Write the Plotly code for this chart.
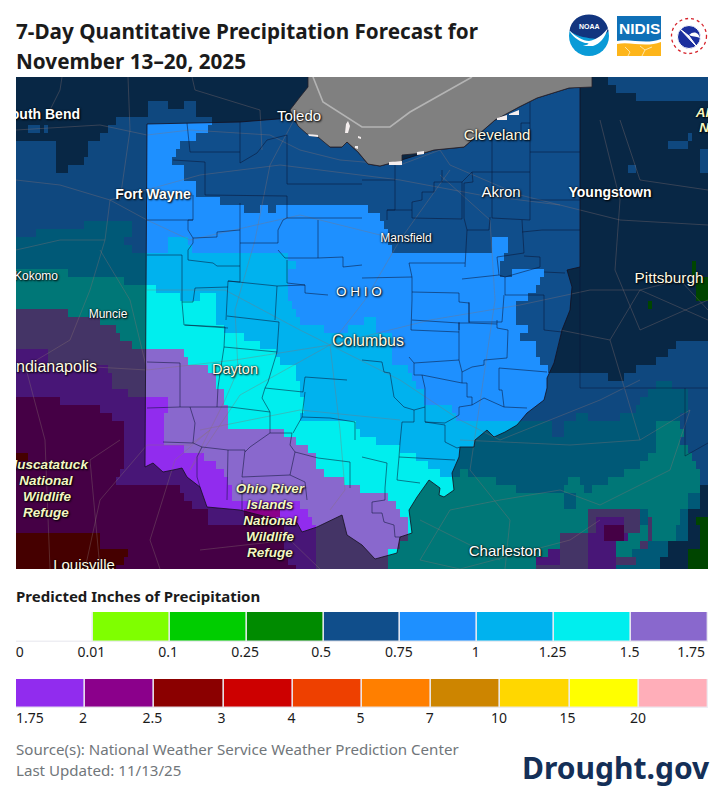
import plotly.graph_objects as go

# legend bands
bands_top = ["0", "0.01", "0.1", "0.25", "0.5", "0.75", "1", "1.25", "1.5", "1.75"]
colors_top = ["#ffffff", "#7fff00", "#00cd00", "#008b00", "#104e8b", "#1e90ff", "#00b2ee", "#00eeee", "#8968cd"]
bands_low = ["1.75", "2", "2.5", "3", "4", "5", "7", "10", "15", "20"]
colors_low = ["#912cee", "#8b008b", "#8b0000", "#cd0000", "#ee4000", "#ff7f00", "#cd8500", "#ffd700", "#ffff00", "#ffaeb9"]

# forecast band per map cell, one row every 8 px. letter = band, number = x where it stops
band_letters = {"k": "#008b00", "a": "#104e8b", "b": "#1e90ff", "c": "#00b2ee", "d": "#00eeee",
                "e": "#8968cd", "f": "#912cee", "g": "#8b008b", "h": "#8b0000"}
qpf_rows = [
    "a608 b708",
    "a618 b708",
    "a635 b708",
    "a150 b168 a185 b197 a708",
    "a148 b197 a708",
    "a118 b212 a708",
    "a28 b40 a45 b50 a110 b207 a708",
    "a100 b195 a688 b692 a708",
    "b57 a90 b180 a668 b690 a708",
    "b57 a87 b175 a699 b708",
    "b57 a83 b173 a699 b708",
    "b57 a67 b183 a630 b637 a699 b708",
    "b185 a708",
    "b197 a708",
    "b197 a708",
    "b220 a708",
    "b245 a262 b268 a278 b368 a708",
    "b380 a708",
    "b85 c133 b385 a708",
    "b35 c133 b388 a708",
    "c123 b168 c190 b390 a492 b508 a708",
    "c133 b168 c193 b393 a492 b508 a708",
    "c290 b505 a708",
    "c297 b502 a692 k697 a708",
    "d68 c290 b502 a514 b545 a692 k697 a708",
    "d123 c290 b540 a697 k708",
    "d157 c290 b535 a697 k708",
    "d180 c200 d218 c290 b530 a697 k708",
    "d218 c292 b515 a647 k652 a708",
    "e70 d218 c297 b515 a708",
    "e100 d218 c300 b365 c375 b515 a708",
    "e117 d225 c325 b350 c375 b530 a708",
    "e120 d245 c392 b520 a708",
    "e133 d262 c392 b535 a677 b708",
    "f50 e185 d275 c392 b535 a670 b708",
    "f50 e190 d280 c392 b542 a658 b708",
    "f110 e207 d295 c407 b547 a637 b708",
    "f112 e215 d297 c414 b610 a625 b708",
    "f112 e218 d300 c418 b658 c672 b708",
    "f128 e223 d302 c424 b650 c690 b708",
    "g60 f168 e225 d303 c425 b640 c690 b708",
    "g100 f168 e230 d303 c454 b635 c690 b708",
    "g112 f165 e228 d302 c458 b575 c590 b620 c680 b708",
    "g123 f163 e230 d355 c553 b566 c656 d682 b708",
    "g123 f163 e285 d362 c553 b565 c655 d685 b708",
    "g123 f163 e295 d375 c655 d682 b708",
    "g123 f185 e307 d402 c655 d688 b708",
    "h28 g123 f205 e315 d415 c650 d692 b708",
    "g123 f217 e318 d430 c640 d695 b708",
    "g120 f225 e325 d440 c462 d468 c625 d700 b708",
    "g118 f230 e345 d495 c568 d582 c610 d700 b708",
    "g180 f233 e362 d517 c566 d585 c592 d700 a708",
    "g185 f233 e390 d564 c575 d690 c700 a708",
    "g192 f302 e397 d564 c575 d690 c700 a708",
    "g208 f243 g280 f310 e402 d587 e642 c650 d680 c690 a708",
    "g208 f243 g277 f313 e407 d587 e597 f625 e642 c648 e652 d680 c690 a696 k708",
    "g285 f318 e410 d587 e597 f604 g626 e642 d648 e652 d678 c690 a700 k708",
    "h100 g285 f318 e410 d559 e587 f604 g626 f628 d648 e652 d678 c690 a700 k708",
    "h100 g285 f318 e400 d559 e587 f618 d640 e648 c668 a700 k708",
    "h128 g285 f318 e390 d547 f559 e587 f618 d632 c668 a687 k708",
    "h125 g290 f318 e390 d535 f559 e587 f618 e636 c660 a687 k708",
    "h115 g295 f318 e390 d535 e587 f618 c660 a687 k708",
]

# outlines, in map pixels
ohio_x = [147, 240, 290, 297, 308, 320, 330, 342, 347, 358, 368, 380, 395, 402, 424, 434, 464, 480, 495, 519, 537, 569, 580,
          580, 567, 572, 570, 570, 562, 559, 554, 547, 547, 544, 527, 517, 505, 494, 487, 475, 474, 460, 459, 452, 454, 444, 439, 440,
          429, 417, 409, 412, 400, 397, 375, 362, 347, 342, 317, 302, 297, 267, 240, 207, 200, 187, 182, 173, 163, 153, 145, 147]
ohio_y = [124, 122, 118, 123, 132, 137, 147, 147, 142, 152, 164, 166, 162, 160, 153, 150, 147, 133, 120, 107, 98, 88, 87,
          267, 270, 287, 307, 310, 330, 343, 363, 378, 388, 400, 413, 425, 432, 437, 430, 440, 447, 447, 457, 473, 490, 497, 495, 488,
          480, 497, 510, 533, 537, 553, 559, 545, 535, 515, 527, 532, 523, 517, 510, 507, 487, 477, 468, 470, 472, 463, 467, 124]
lake_x = [308, 308, 300, 290, 298, 307, 318, 330, 342, 347, 358, 368, 380, 395, 402, 402, 424, 434, 464, 480, 495, 519, 537, 569, 592, 592]
lake_y = [77, 87, 97, 110, 126, 134, 137, 147, 147, 142, 152, 164, 166, 162, 162, 155, 153, 150, 147, 133, 120, 107, 98, 88, 87, 77]
border_x = [313, 323, 362, 390, 410, 472]
border_y = [77, 102, 127, 127, 112, 77]
# white specks along the shore and the islands
ice_patches = [
    [(345, 133), (346, 124), (348, 121), (350, 126), (348, 133), (345, 133)],
    [(358, 136), (361, 137), (361, 139), (358, 138), (358, 136)],
    [(308, 134), (318, 135), (318, 137), (309, 136), (308, 134)],
    [(355, 146), (358, 146), (358, 149), (355, 148), (355, 146)],
    [(389, 162), (402, 161), (402, 165), (389, 165), (389, 162)],
    [(497, 118), (507, 115), (507, 120), (497, 120), (497, 118)],
    [(509, 114), (519, 110), (519, 115), (509, 115), (509, 114)],
    [(417, 152), (424, 151), (424, 154), (417, 155), (417, 152)],
]

county_lines = [
    [(187, 123), (190, 152), (240, 152)], [(240, 122), (240, 163)],
    [(240, 163), (257, 153), (267, 140), (287, 135), (287, 184)],
    [(173, 160), (205, 162), (205, 195), (287, 196), (287, 218)], [(287, 184), (362, 184)],
    [(147, 220), (193, 220), (193, 195)], [(193, 220), (188, 220), (188, 230), (193, 238), (193, 243), (188, 250), (188, 260)],
    [(193, 238), (217, 237), (217, 232), (240, 230), (240, 203)], [(240, 230), (240, 266)],
    [(188, 260), (213, 263), (217, 266), (240, 266), (240, 282), (228, 281), (226, 320)],
    [(240, 243), (278, 243), (278, 230), (283, 220), (287, 218), (362, 218)],
    [(278, 250), (285, 258), (318, 258), (318, 220)], [(318, 258), (343, 257), (343, 267), (362, 265)],
    [(287, 260), (287, 283), (305, 285), (305, 293), (328, 295)], [(228, 281), (277, 286), (305, 285)], [(277, 286), (275, 320)],
    [(147, 255), (182, 255), (182, 302), (193, 302), (195, 288), (228, 287)], [(182, 302), (184, 325), (228, 328)],
    [(185, 325), (225, 327), (224, 347), (277, 352), (279, 322), (227, 316)],
    [(224, 347), (218, 387), (217, 407), (230, 407), (270, 412), (262, 398), (265, 388), (303, 392), (305, 377), (347, 380)],
    [(277, 352), (268, 382), (265, 388)], [(147, 362), (180, 363), (180, 407), (147, 408)], [(180, 407), (217, 407)],
    [(190, 407), (195, 423), (193, 443), (163, 442)], [(193, 443), (202, 447), (197, 457), (197, 477), (200, 487)],
    [(202, 447), (228, 450), (227, 500)],
    [(228, 450), (245, 450), (242, 477), (290, 475), (295, 452), (290, 445), (292, 433), (270, 433), (250, 447), (245, 452)],
    [(270, 412), (270, 433)], [(293, 433), (302, 417), (305, 392)], [(302, 417), (330, 418), (355, 422), (355, 440)],
    [(295, 452), (318, 458), (350, 462), (350, 488)], [(242, 480), (242, 510)], [(290, 475), (305, 482), (307, 500)],
    [(362, 360), (382, 362), (384, 372), (390, 373), (394, 397), (404, 407), (414, 410), (414, 422), (402, 422), (400, 443)],
    [(412, 300), (411, 330), (459, 332), (459, 360), (462, 372), (472, 367), (484, 365), (484, 360), (507, 358), (508, 330), (497, 328), (497, 320)],
    [(459, 332), (459, 323), (469, 323), (469, 302)], [(469, 323), (497, 324)],
    [(409, 357), (414, 363), (414, 375), (422, 375), (425, 388), (425, 407), (414, 410)], [(414, 363), (459, 360)],
    [(422, 375), (462, 383), (467, 383), (467, 397), (472, 397), (472, 405), (459, 407), (459, 415)], [(462, 383), (462, 372)],
    [(425, 407), (425, 422), (445, 425), (445, 442), (457, 448), (460, 447)], [(425, 422), (445, 423), (454, 418), (459, 415)],
    [(484, 398), (504, 407), (527, 408)], [(499, 368), (547, 372)], [(499, 368), (499, 390), (502, 390), (504, 407)], [(472, 405), (484, 398)],
    [(362, 457), (387, 463), (385, 488), (385, 500), (372, 502), (372, 513), (382, 513), (384, 522), (394, 525), (395, 537), (400, 537)],
    [(399, 457), (455, 460)], [(399, 457), (397, 480), (420, 483)], [(400, 443), (399, 457)],
    [(395, 163), (395, 210), (387, 210), (387, 220)], [(362, 180), (395, 180)],
    [(442, 170), (442, 182), (434, 182), (434, 192), (422, 192), (422, 200), (412, 202), (412, 218)], [(387, 210), (412, 210)],
    [(412, 218), (462, 219), (462, 182)], [(442, 182), (462, 182), (472, 172), (473, 182), (464, 183)], [(472, 172), (530, 172)],
    [(492, 133), (492, 218), (530, 220), (530, 100)], [(521, 123), (530, 123)], [(521, 123), (521, 133), (492, 133)],
    [(530, 152), (580, 152)], [(530, 200), (580, 200)], [(464, 183), (464, 218), (467, 230), (489, 230), (490, 217)],
    [(467, 230), (465, 267)], [(522, 220), (524, 253), (497, 257), (499, 275), (462, 279)], [(542, 230), (522, 232)], [(542, 230), (580, 230)],
    [(540, 257), (524, 256)], [(540, 257), (540, 267), (505, 277)], [(499, 275), (505, 277), (505, 295), (544, 295), (544, 330), (562, 332)],
    [(412, 277), (412, 300)], [(409, 263), (465, 263)], [(409, 263), (412, 277), (362, 278)],
    [(412, 292), (459, 293), (459, 302), (469, 303), (469, 322), (502, 322), (504, 295)], [(459, 322), (459, 330)], [(412, 320), (459, 323)],
    [(544, 272), (565, 273)],
]
state_lines = [[(580, 267), (580, 388), (708, 388)], [(685, 388), (685, 456), (708, 443)]]
road_lines = [
    [(16, 130), (100, 125), (147, 135), (190, 130), (270, 135), (300, 150), (340, 160), (400, 165), (440, 150), (450, 165), (520, 195), (580, 210), (620, 220), (708, 225)],
    [(295, 118), (270, 165), (255, 240), (235, 310), (238, 370), (225, 400), (205, 440), (190, 470)],
    [(16, 370), (60, 365), (147, 370), (235, 360), (330, 345), (430, 320), (520, 305), (590, 290), (640, 290), (708, 320)],
    [(190, 470), (240, 395), (330, 345), (365, 300), (400, 240), (450, 170)],
    [(440, 175), (490, 220), (495, 300), (475, 440), (470, 470), (510, 520), (505, 569)],
    [(110, 200), (105, 240), (90, 290), (70, 340), (20, 370)],
    [(16, 180), (60, 185), (110, 200), (147, 220), (190, 240), (300, 215), (340, 225), (380, 235)],
    [(110, 200), (200, 175), (280, 165), (400, 180), (480, 195), (560, 205)],
    [(25, 365), (45, 440), (50, 569)], [(147, 445), (190, 445), (210, 430), (175, 460), (150, 540), (160, 569)],
    [(330, 345), (340, 430), (345, 490), (330, 510)], [(330, 345), (400, 380), (460, 420), (500, 440), (600, 400), (640, 380)],
    [(600, 120), (620, 200), (615, 270), (640, 330), (708, 300)], [(620, 120), (640, 180), (708, 190)],
    [(560, 330), (610, 340), (640, 290), (680, 280), (708, 310)],
    [(460, 440), (570, 445), (640, 440), (690, 410), (670, 470), (600, 505), (560, 490), (500, 500), (450, 510), (420, 560), (460, 569), (570, 540), (600, 520)],
    [(640, 440), (625, 390), (610, 340)], [(62, 77), (60, 90), (50, 110)], [(128, 77), (130, 130), (120, 200)],
    [(192, 77), (195, 90), (260, 110), (262, 150)], [(16, 250), (60, 240), (105, 240)], [(100, 250), (130, 300), (147, 370)],
    [(147, 290), (225, 290), (300, 330), (330, 345)], [(200, 430), (300, 410), (400, 420)], [(85, 569), (100, 500), (147, 445)],
    [(120, 440), (90, 460), (100, 569)], [(200, 550), (290, 540), (320, 569)], [(420, 520), (500, 560)],
]

# map labels: text, x, y
white_labels = ["South Bend", "Toledo", "Fort Wayne", "Akron", "Youngstown", "Mansfield", "Kokomo", "Muncie", "Charleston"]
white_x = [80, 299, 153, 501, 610, 406, 58, 108, 505]
white_y = [115, 117, 195, 193, 193, 239, 277, 315, 552]
white_size = [14, 15, 14, 15, 14, 12, 12, 12, 15]
white_weight = ["bold", "normal", "bold", "normal", "bold", "normal", "normal", "normal", "normal"]
cream_labels = ["Cleveland", "Pittsburgh", "Dayton", "Columbus", "Indianapolis", "Louisville"]
cream_x = [497, 669, 235, 368, 97, 84]
cream_y = [136, 279, 370, 342, 368, 566]
cream_size = [15, 15.3, 14.5, 16, 16, 15]
refuge_labels = ["Muscatatuck", "National", "Wildlife", "Refuge", "Ohio River", "Islands", "National", "Wildlife", "Refuge", "Allegheny", "National"]
refuge_x = [47, 46, 47, 46, 270, 270, 270, 270, 270, 728, 726]
refuge_y = [466, 482, 498, 514, 490, 506, 522, 538, 554, 114, 129]

PAGE_W, PAGE_H = 724, 811
MAP_X0, MAP_X1, MAP_Y0, MAP_Y1 = 16, 708, 77, 569
CELL_W, CELL_H = 4, 8
TEXT_FONT = "Noto Sans"
MAP_FONT = "Liberation Sans"


def expand_row(row):
    cells = []
    x = MAP_X0 + CELL_W / 2
    for tok in row.split():
        while x < int(tok[1:]):
            cells.append(letters.index(tok[0]))
            x += CELL_W
    return cells


def join_lines(lines):
    xs, ys = [], []
    for line in lines:
        xs += [p[0] for p in line] + [None]
        ys += [p[1] for p in line] + [None]
    return xs, ys


def px(x):
    return x / PAGE_W


def py(y):
    return 1 - y / PAGE_H


def page_path(d):
    # "x,y" pairs in page pixels to paper coordinates
    out = []
    for tok in d.split():
        if "," in tok:
            a, b = tok.split(",")
            out.append("%.5f,%.5f" % (px(float(a)), py(float(b))))
        else:
            out.append(tok)
    return " ".join(out)


letters = list(band_letters)
z = [expand_row(r) for r in qpf_rows]
n = len(letters)
scale = []
for i, l in enumerate(letters):
    scale += [[i / n, band_letters[l]], [(i + 1) / n, band_letters[l]]]

fig = go.Figure()
fig.add_trace(go.Heatmap(z=z,
                         x=[MAP_X0 + CELL_W * (i + 0.5) for i in range(len(z[0]))],
                         y=[MAP_Y0 + CELL_H * (i + 0.5) for i in range(len(z))],
                         colorscale=scale, zmin=0, zmax=n, showscale=False, hoverinfo="skip"))

# everything outside Ohio is dimmed; ring runs opposite the rectangle so it stays a hole
mask_x = [0, 724, 724, 0, 0, None] + ohio_x[::-1]
mask_y = [0, 0, 811, 811, 0, None] + ohio_y[::-1]
fig.add_trace(go.Scatter(x=mask_x, y=mask_y, mode="none", fill="toself",
                         fillcolor="rgba(0,0,0,0.5)", hoverinfo="skip", showlegend=False))

rx, ry = join_lines(road_lines)
fig.add_trace(go.Scatter(x=rx, y=ry, mode="lines", line=dict(color="rgba(135,115,115,0.36)", width=1),
                         hoverinfo="skip", showlegend=False))
cx, cy = join_lines(county_lines)
fig.add_trace(go.Scatter(x=cx, y=cy, mode="lines", line=dict(color="rgba(10,20,50,0.75)", width=0.7),
                         hoverinfo="skip", showlegend=False))
sx, sy = join_lines(state_lines)
fig.add_trace(go.Scatter(x=sx, y=sy, mode="lines", line=dict(color="rgba(10,20,50,0.6)", width=0.8),
                         hoverinfo="skip", showlegend=False))
fig.add_trace(go.Scatter(x=ohio_x, y=ohio_y, mode="lines", line=dict(color="rgba(20,15,30,0.8)", width=1),
                         hoverinfo="skip", showlegend=False))
fig.add_trace(go.Scatter(x=lake_x, y=lake_y, mode="lines", fill="toself", fillcolor="#808080",
                         line=dict(color="rgba(35,30,40,0.8)", width=1), hoverinfo="skip", showlegend=False))
fig.add_trace(go.Scatter(x=border_x, y=border_y, mode="lines", line=dict(color="#b4b4b4", width=1.6),
                         hoverinfo="skip", showlegend=False))
ix, iy = join_lines(ice_patches)
fig.add_trace(go.Scatter(x=ix, y=iy, mode="none", fill="toself", fillcolor="#f4eeee",
                         hoverinfo="skip", showlegend=False))

SHADOW = "0px 0px 2px #000, 1px 1px 2px #000"
fig.add_trace(go.Scatter(x=[506], y=[69], text=["Erie"], mode="text",
                         textfont=dict(family=MAP_FONT, size=14, color="#333333", weight="bold"),
                         hoverinfo="skip", showlegend=False))
fig.add_trace(go.Scatter(x=white_x, y=white_y, text=white_labels, mode="text",
                         textposition=["middle left" if t in ("South Bend", "Kokomo") else "middle center" for t in white_labels],
                         textfont=dict(family=MAP_FONT, size=white_size, color="#ffffff", weight=white_weight, shadow=SHADOW),
                         hoverinfo="skip", showlegend=False))
fig.add_trace(go.Scatter(x=cream_x, y=cream_y, text=cream_labels, mode="text",
                         textposition=["middle left" if t == "Indianapolis" else "middle center" for t in cream_labels],
                         textfont=dict(family=MAP_FONT, size=cream_size, color="#fffbe6", shadow=SHADOW),
                         hoverinfo="skip", showlegend=False))
fig.add_trace(go.Scatter(x=[359], y=[293], text=["O H I O"], mode="text",
                         textfont=dict(family=MAP_FONT, size=13.5, color="#ffffff", shadow=SHADOW),
                         hoverinfo="skip", showlegend=False))
fig.add_trace(go.Scatter(x=refuge_x, y=refuge_y, text=refuge_labels, mode="text",
                         textfont=dict(family=MAP_FONT, size=13.5, color="#f4f7c4", style="italic", weight="bold", shadow=SHADOW),
                         hoverinfo="skip", showlegend=False))

# legend rows
fig.add_trace(go.Bar(x=[i + 0.5 for i in range(len(colors_top))], y=[1] * len(colors_top), width=1,
                     marker=dict(color=colors_top, line=dict(color="rgba(236,236,242,0.9)", width=1.4)),
                     xaxis="x2", yaxis="y2", hoverinfo="skip", showlegend=False))
fig.add_trace(go.Bar(x=[i + 0.5 for i in range(len(colors_low))], y=[1] * len(colors_low), width=1,
                     marker=dict(color=colors_low, line=dict(color="rgba(236,236,242,0.9)", width=1.4)),
                     xaxis="x3", yaxis="y3", hoverinfo="skip", showlegend=False))

top_ticks = [0.05, 0.98, 1.98, 2.98, 3.97, 4.98, 5.98, 6.98, 7.98, 8.78]
low_ticks = [0.2, 0.97, 1.97, 2.97, 3.98, 4.98, 5.98, 6.98, 7.97, 8.99]

texts = [
    ("7-Day Quantitative Precipitation Forecast for", 14, 31, 20.7, "#1b1b1b", "bold"),
    ("November 13\u201320, 2025", 14, 61, 20.7, "#1b1b1b", "bold"),
    ("Predicted Inches of Precipitation", 14, 596, 15, "#1b1b1b", "bold"),
    ("Source(s): National Weather Service Weather Prediction Center", 14, 749, 15.1, "#71767a", "normal"),
    ("Last Updated: 11/13/25", 14, 770, 15.1, "#71767a", "normal"),
    ("Drought.gov", 520, 767, 30, "#142f57", "bold"),
]
annotations = [dict(text=t, x=px(x), y=py(y), xref="paper", yref="paper", xanchor="left", yanchor="middle",
                    showarrow=False, font=dict(family=TEXT_FONT, size=s, color=c, weight=w))
               for t, x, y, s, c, w in texts]
annotations += [
    dict(text="NOAA", x=px(589), y=py(27), xref="paper", yref="paper", xanchor="center", yanchor="middle", showarrow=False,
         font=dict(family=MAP_FONT, size=7, color="#ffffff", weight="bold")),
    dict(text="NIDIS", x=px(639), y=py(29), xref="paper", yref="paper", xanchor="center", yanchor="middle", showarrow=False,
         font=dict(family=MAP_FONT, size=15.5, color="#ffffff", weight="bold")),
]


def circle(cx_, cy_, r, fill, line=None, dash=None, width=1):
    return dict(type="circle", xref="paper", yref="paper", x0=px(cx_ - r), x1=px(cx_ + r), y0=py(cy_ + r), y1=py(cy_ - r),
                fillcolor=fill, line=dict(color=line or fill, width=width if line else 0, dash=dash), layer="below")


def path(d, fill=None, line=None, width=1):
    return dict(type="path", xref="paper", yref="paper", path=page_path(d), fillcolor=fill,
                line=dict(color=line or fill, width=width if line else 0), layer="below")


logos = [
    circle(589, 36, 20, "#0a9bd7"),
    path("M 569.5,31 C 572,9 606,9 608.5,31 C 604,36 600,38 596,39 C 588,38 578,37 569.5,31 Z", "#12357f"),
    path("M 569,30 C 576,37 583,41 589,41 C 596,40 603,35 608,28 C 605,38 600,44 593,46 L 583,46 C 590,44 590,43 585,43 C 578,41 572,36 569,30 Z", "#ffffff"),
    dict(type="rect", xref="paper", yref="paper", x0=px(617), x1=px(661), y0=py(56), y1=py(16), fillcolor="#0f70b7", line=dict(width=0), layer="below"),
    path("M 617,43 C 630,40 645,47 661,41 L 661,56 L 617,56 Z", "#fdb51a"),
    path("M 617,41 C 630,38 645,45 661,39 L 661,42 C 645,48 630,41 617,44 Z", "#ffffff"),
    path("M 625,47 L 630,52 L 628,56 M 640,46 L 645,50 L 652,47 M 645,50 L 642,56", None, "#fff1c9", 0.8),
    circle(689, 36, 17.5, "#ffffff", "#d6222a", "dot", 1.3),
    circle(689, 37, 11.5, "#1b2f9e", "#ffffff", None, 1),
    path("M 680,29 L 694,44 L 697,47 L 689,36 Z", "#ffffff", "#ffffff", 1),
    path("M 689,35 C 694,30 699,33 700,38 C 696,36 692,37 689,35 Z", "#ffffff"),
]

fig.update_layout(
    width=PAGE_W, height=PAGE_H, margin=dict(l=0, r=0, t=0, b=0), paper_bgcolor="#ffffff", plot_bgcolor="#ffffff",
    bargap=0,
    xaxis=dict(domain=[px(MAP_X0), px(MAP_X1)], range=[MAP_X0, MAP_X1], visible=False),
    yaxis=dict(domain=[py(MAP_Y1), py(MAP_Y0)], range=[MAP_Y1, MAP_Y0], visible=False),
    xaxis2=dict(domain=[px(16), px(708)], range=[0, 9], anchor="y2", tickvals=top_ticks, ticktext=bands_top, tickangle=0,
                showgrid=False, zeroline=False, showline=False, ticks="", tickfont=dict(family=TEXT_FONT, size=14, color="#1b1b1b")),
    yaxis2=dict(domain=[py(642), py(612)], range=[0, 1], anchor="x2", visible=False),
    xaxis3=dict(domain=[px(16), px(708)], range=[0, 10], anchor="y3", tickvals=low_ticks, ticktext=bands_low, tickangle=0,
                showgrid=False, zeroline=False, showline=False, ticks="", tickfont=dict(family=TEXT_FONT, size=14, color="#1b1b1b")),
    yaxis3=dict(domain=[py(708), py(679)], range=[0, 1], anchor="x3", visible=False),
    annotations=annotations, shapes=logos,
)

fig.write_html("out.html", config={"displayModeBar": False},
               post_script="document.body.style.margin='0';document.documentElement.style.overflow='hidden';")
